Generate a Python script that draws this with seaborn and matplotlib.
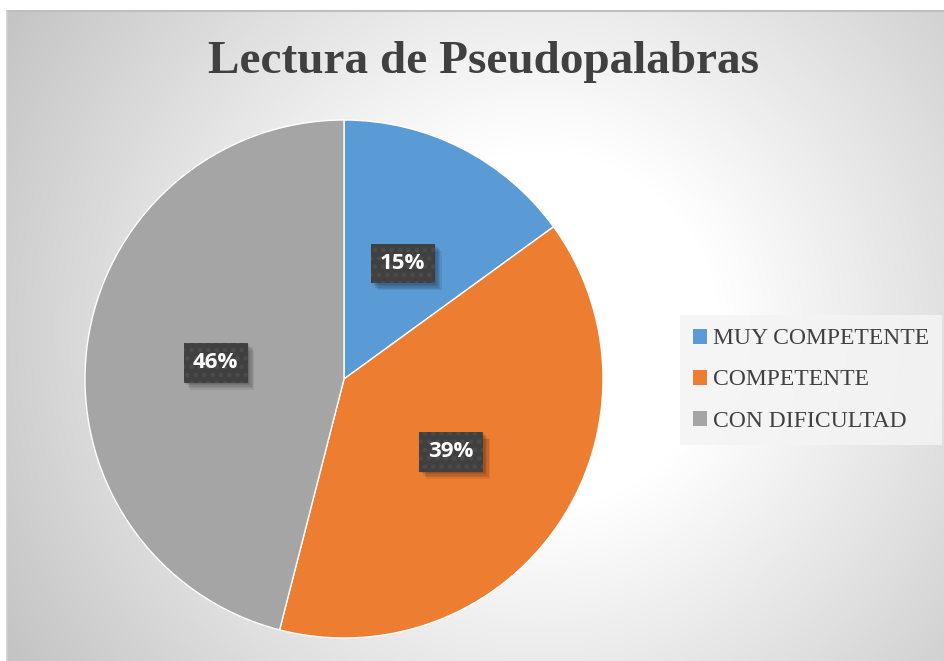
import numpy as np
import matplotlib
matplotlib.use("Agg")
import matplotlib.pyplot as plt
import matplotlib.patheffects as pe
from matplotlib.patches import Patch
import seaborn as sns

sns.set_theme(style="white")
plt.rcParams['font.family'] = ['Liberation Serif', 'DejaVu Serif']
plt.rcParams['hatch.linewidth'] = 2.0

# ---- data ----
categories = ["MUY COMPETENTE", "COMPETENTE", "CON DIFICULTAD"]
values = [15, 39, 46]
colors = ["#5B9BD5", "#ED7D31", "#A5A5A5"]
title = "Lectura de Pseudopalabras"

W, H = 944, 661
fig = plt.figure(figsize=(W / 100, H / 100), dpi=100)
fig.patch.set_facecolor("white")

# ---- background radial gradient (chart area) ----
left_px, top_px = 7, 11
bg = fig.add_axes([left_px / W, 0, 1 - left_px / W, 1 - top_px / H], zorder=0)
gw, gh = W - left_px, H - top_px
yy, xx = np.mgrid[0:gh, 0:gw]
cx, cy = 540 - left_px, 330 - top_px
r = np.sqrt((xx - cx) ** 2 + (yy - cy) ** 2)
t = np.clip((r - 180) / 400.0, 0, 1.2)
img = 1 - 0.21 * t
bg.imshow(np.dstack([img, img, img]), aspect="auto", extent=[0, gw, gh, 0])
bg.set_axis_off()
# thin border lines
fig.add_artist(plt.Line2D([left_px / W, 1], [1 - top_px / H] * 2, color="#bfbfbf", lw=1.5, zorder=1))
fig.add_artist(plt.Line2D([left_px / W] * 2, [0, 1 - top_px / H], color="#d0d0d0", lw=1.2, zorder=1))

# ---- pie ----
pcx, pcy, rad = 344, 379, 259
ax = fig.add_axes([(pcx - rad) / W, (H - pcy - rad) / H, 2 * rad / W, 2 * rad / H], zorder=2)
ax.patch.set_alpha(0)
label_font = dict(fontsize=16, fontweight="bold", family=["Open Sans", "DejaVu Sans"])
wedges, texts, autotexts = ax.pie(
    values, colors=colors, startangle=90, counterclock=False,
    autopct=lambda p: f"{p:.0f}%", pctdistance=0.5,
    wedgeprops=dict(edgecolor="white", linewidth=1),
    textprops=dict(color="white", **label_font),
)
ax.set_xlim(-1, 1)
ax.set_ylim(-1, 1)
ax.set_aspect("auto")
ax.set_axis_off()
shadow = [pe.SimplePatchShadow(offset=(k, -k), shadow_rgbFace="black", alpha=0.08) for k in (1, 2, 3, 4, 5)]
for at in autotexts:
    x, y = at.get_position()
    # soft shadow (drawn only through the path effects)
    sh = ax.text(x, y, at.get_text(), ha="center", va="center", color="none", zorder=3, **label_font)
    sh.set_bbox(dict(boxstyle="square,pad=0.42", facecolor="black", edgecolor="none", linewidth=0))
    sh.get_bbox_patch().set_path_effects(shadow)
    at.set_zorder(4)
    at.set_bbox(dict(boxstyle="square,pad=0.42", facecolor="#404040", edgecolor="#4b4b4b",
                     linewidth=0, hatch=".."))

# ---- title ----
fig.text(483 / W, 1 - 62 / H, title, ha="center", va="center", fontsize=34,
         fontweight="bold", color="#404040", zorder=3)

# ---- legend ----
handles = [Patch(facecolor=c, edgecolor="none") for c in colors]
leg = fig.legend(handles, categories, loc="center", bbox_to_anchor=(811 / W, 1 - 380 / H),
                 frameon=True, fontsize=17, handlelength=0.6, handleheight=0.6,
                 handletextpad=0.25, labelspacing=0.85, borderpad=0.55)
leg.get_frame().set_facecolor("#f4f4f4")
leg.get_frame().set_alpha(0.85)
leg.get_frame().set_edgecolor("none")
leg.get_frame().set_boxstyle("square", pad=0)
for txt in leg.get_texts():
    txt.set_color("#404040")
leg.set_zorder(4)

fig.savefig("out.png", dpi=100)
